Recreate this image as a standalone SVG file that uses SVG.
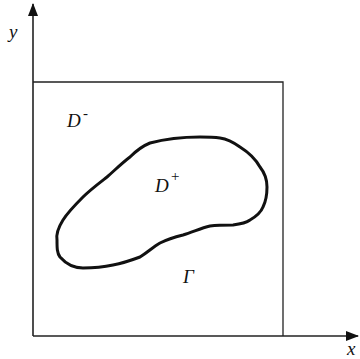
<svg xmlns="http://www.w3.org/2000/svg" width="360" height="359" viewBox="0 0 360 359">
<style>
.ax{stroke:#222;stroke-width:1.6;fill:none}
.bx{stroke:#222;stroke-width:1.3;fill:none}
.cv{stroke:#111;stroke-width:3;fill:none;stroke-linejoin:round}
.t{font-family:"Liberation Serif",serif;font-style:italic;font-size:19px;fill:#111}
.s{font-family:"Liberation Serif",serif;font-size:15px;fill:#111}
</style>
<defs>
<marker id="ah" markerWidth="13" markerHeight="11" refX="12" refY="5.5" orient="auto" markerUnits="userSpaceOnUse">
<path d="M0,0.5 L13,5.5 L0,10.5 Z" fill="#111"/>
</marker>
</defs>
<g id="connectors">
<line class="ax" x1="33" y1="336" x2="33" y2="4" marker-end="url(#ah)"/>
<line class="ax" x1="33" y1="336" x2="358" y2="336" marker-end="url(#ah)"/>
</g>
<g id="box">
<path class="bx" d="M33,82 H283 V336"/>
</g>
<g id="curve">
<path class="cv" d="M200,137 C185,137 165,139 150,143 C140,147 135,152 130,157 C122,163 115,170 107,177 C98,184 90,190 83,197 C75,205 68,212 63,220 C58,228 56,234 57,240 C57,248 57,253 60,257 C67,265 74,268 83,268 C95,268 104,267 113,265 C124,263 132,260 140,257 C148,252 153,247 160,243 C168,239 175,237 183,235 C193,232 201,228 210,226 C218,225 226,225 233,225 C241,224 246,223 250,220 C257,216 261,212 263,207 C266,201 267,194 267,187 C267,179 264,172 260,167 C255,158 248,152 240,147 C233,142 227,139 220,138 C213,137 207,137 200,137 Z"/>
</g>
<g id="labels">
<text class="t" x="9" y="38">y</text>
<text class="t" x="347" y="355">x</text>
<g id="Dminus"><text class="t" x="67" y="127">D</text><text class="s" x="83" y="118">-</text></g>
<g id="Dplus"><text class="t" x="155" y="192">D</text><text class="s" x="171" y="181">+</text></g>
<text class="t" x="183" y="283">Γ</text>
</g>
</svg>
